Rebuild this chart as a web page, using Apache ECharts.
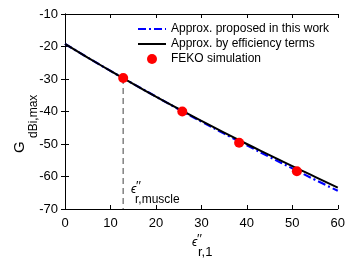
<!DOCTYPE html>
<html>
<head>
<meta charset="utf-8">
<script src="https://cdn.jsdelivr.net/npm/echarts@6/dist/echarts.min.js"></script>
<style>
html,body{margin:0;padding:0;background:#fff;}
#main{width:348px;height:260px;}
</style>
</head>
<body>
<div id="main"></div>
<script>
// values
var xSamples = [0, 5, 10, 15, 20, 25, 30, 35, 40, 45, 50, 55, 60];
var efficiencyApprox = [-19.2, -23.4, -27.5, -31.5, -35.4, -39.2, -42.9, -46.5, -50.0, -53.4, -56.8, -60.1, -63.4];
var proposedApprox = [-19.2, -23.4, -27.5, -31.5, -35.4, -39.3, -43.1, -46.8, -50.4, -54.0, -57.5, -61.0, -64.4];
var fekoX = [12.8, 25.8, 38.3, 51.0];
var fekoY = [-29.7, -40.0, -49.6, -58.4];
var muscleX = 12.8;

var font = 'Liberation Sans, Arial, sans-serif';

function pairs(xs, ys) {
	var out = [];
	for (var i = 0; i < xs.length; i++) out.push([xs[i], ys[i]]);
	return out;
}

var myChart = echarts.init(document.getElementById('main'));

var axisCommon = {
	type: 'value',
	axisLine: {show: true, lineStyle: {color: '#000', width: 1}},
	axisTick: {show: true, inside: true, length: 4, lineStyle: {color: '#000'}},
	splitLine: {show: false}
};

option = {
	animation: false,
	backgroundColor: '#fff',
	grid: {left: 65, right: 6, top: 14, bottom: 51},
	legend: {
		orient: 'vertical',
		left: 132,
		top: 18,
		itemWidth: 28,
		itemHeight: 10,
		itemGap: 3,
		textStyle: {fontFamily: font, fontSize: 12, color: '#000'},
		data: [
			{name: 'Approx. proposed in this work', itemStyle: {opacity: 0}},
			{name: 'Approx. by efficiency terms', itemStyle: {opacity: 0}},
			'FEKO simulation'
		]
	},
	xAxis: [
		Object.assign({}, axisCommon, {
			min: 0, max: 60, interval: 10,
			axisLabel: {color: '#000', fontFamily: font, fontSize: 13, margin: 8}
		}),
		Object.assign({}, axisCommon, {
			position: 'top', min: 0, max: 60, interval: 10,
			axisLabel: {show: false}
		})
	],
	yAxis: [
		Object.assign({}, axisCommon, {
			min: -70, max: -10, interval: 10,
			axisLabel: {color: '#000', fontFamily: font, fontSize: 13, margin: 7}
		}),
		Object.assign({}, axisCommon, {
			position: 'right', min: -70, max: -10, interval: 10,
			axisLabel: {show: false}
		})
	],
	graphic: [
		{type: 'text', left: 192, top: 237, style: {text: 'ϵ', font: 'italic 12px ' + font, fill: '#000'}},
		{type: 'text', left: 197, top: 233, style: {text: '′′', font: '13px ' + font, fill: '#000'}},
		{type: 'text', left: 198, top: 246, style: {text: 'r,1', font: '13px ' + font, fill: '#000'}},
		{type: 'text', left: 131, top: 184, style: {text: 'ϵ', font: 'italic 12px ' + font, fill: '#000'}},
		{type: 'text', left: 136, top: 180, style: {text: '′′', font: '13px ' + font, fill: '#000'}},
		{type: 'text', left: 135, top: 194, style: {text: 'r,muscle', font: '12px ' + font, fill: '#000'}},
		{type: 'text', x: 12, y: 153, rotation: Math.PI / 2, style: {text: 'G', font: '15px ' + font, fill: '#000', align: 'left', verticalAlign: 'top'}},
		{type: 'text', x: 28, y: 138, rotation: Math.PI / 2, style: {text: 'dBi,max', font: '12px ' + font, fill: '#000', align: 'left', verticalAlign: 'top'}}
	],
	series: [
		{
			name: 'muscle',
			type: 'line',
			data: [[muscleX, fekoY[0]], [muscleX, -70]],
			symbol: 'none',
			lineStyle: {color: '#808080', width: 1.5, type: [6, 4]},
			z: 1
		},
		{
			name: 'Approx. proposed in this work',
			type: 'line',
			data: pairs(xSamples, proposedApprox),
			symbol: 'none',
			smooth: true,
			itemStyle: {color: '#0000ff'},
			lineStyle: {color: '#0000ff', width: 2.2, type: [8, 3, 2, 3]},
			z: 2
		},
		{
			name: 'Approx. by efficiency terms',
			type: 'line',
			data: pairs(xSamples, efficiencyApprox),
			symbol: 'none',
			smooth: true,
			itemStyle: {color: '#000'},
			lineStyle: {color: '#000', width: 2},
			z: 3
		},
		{
			name: 'FEKO simulation',
			type: 'scatter',
			data: pairs(fekoX, fekoY),
			symbol: 'circle',
			symbolSize: 10,
			itemStyle: {color: '#ff0000', opacity: 1},
			z: 4
		}
	]
};
myChart.setOption(option);
</script>
</body>
</html>
